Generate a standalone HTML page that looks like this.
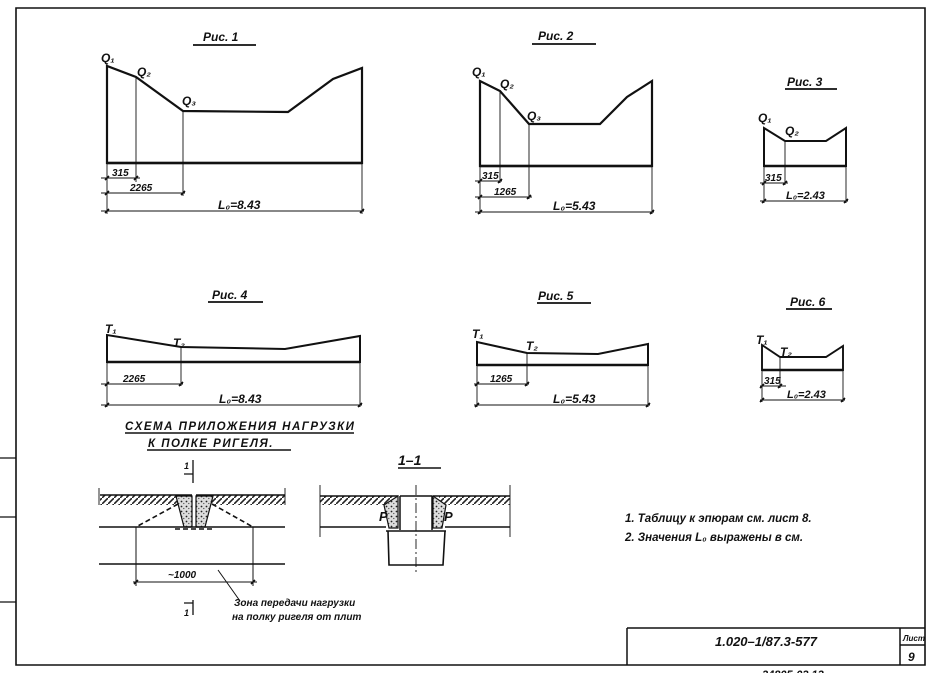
<!DOCTYPE html>
<html><head><meta charset="utf-8"><style>
html,body{margin:0;padding:0;background:#fff}
svg{display:block}
text{font-family:"Liberation Sans",sans-serif;font-style:italic;font-weight:bold;fill:#111}
</style></head><body>
<svg width="933" height="673" viewBox="0 0 933 673" xmlns="http://www.w3.org/2000/svg">
<defs>
<pattern id="h" width="6" height="6" patternUnits="userSpaceOnUse"><rect width="6" height="6" fill="#fff"/><path d="M0 6L6 0" stroke="#222" stroke-width="1.6"/></pattern>
<pattern id="c" width="5" height="5" patternUnits="userSpaceOnUse"><rect width="5" height="5" fill="#ddd"/><circle cx="1.5" cy="1.5" r="0.9" fill="#222"/><circle cx="3.8" cy="3.5" r="0.6" fill="#444"/></pattern>
</defs>
<g fill="none" stroke="#111">
<path d="M16 8H925V665H16Z" stroke-width="1.6"/>
<path d="M0 458H16M0 517H16M0 602H16" stroke-width="1.2"/>
<path d="M627 628H925M627 628V665M900 628V665M900 645H925" stroke-width="1.5"/>

<path d="M107 163V66L136 77L183 111L288 112L333 79L362 68V163Z" stroke-width="2.2"/>
<path d="M107 163H362" stroke-width="2.6"/>
<path d="M136 77V182M183 111V196M107 163V214M362 163V214" stroke-width="0.9"/>
<path d="M101 178H140M101 193H185M101 211H364" stroke-width="1"/>
<path d="M105 180L109 176M134 180L138 176M105 195L109 191M181 195L185 191M105 213L109 209M360 213L364 209" stroke-width="1.6"/>
<path d="M193 45H256" stroke-width="1.8"/>

<path d="M480 166V81L500 91L529 124L600 124L627 97L652 81V166Z" stroke-width="2.2"/>
<path d="M480 166H652" stroke-width="2.6"/>
<path d="M500 91V183M529 124V199M480 166V214M652 166V214" stroke-width="0.9"/>
<path d="M475 181H502M475 197H532M475 212H654" stroke-width="1"/>
<path d="M478 183L482 179M498 183L502 179M478 199L482 195M527 199L531 195M478 214L482 210M650 214L654 210" stroke-width="1.6"/>
<path d="M532 44H596" stroke-width="1.8"/>

<path d="M764 166V128L785 141L826 141L846 128V166Z" stroke-width="2"/>
<path d="M764 166H846" stroke-width="2.4"/>
<path d="M785 141V185M764 166V203M846 166V203" stroke-width="0.9"/>
<path d="M760 183H788M760 201H848" stroke-width="1"/>
<path d="M762 185L766 181M783 185L787 181M762 203L766 199M844 203L848 199" stroke-width="1.6"/>
<path d="M785 89H837" stroke-width="1.8"/>

<path d="M107 362V335L181 347L285 349L360 336V362Z" stroke-width="2"/>
<path d="M107 362H360" stroke-width="2.6"/>
<path d="M181 347V386M107 362V407M360 362V407" stroke-width="0.9"/>
<path d="M101 384H183M101 405H362" stroke-width="1"/>
<path d="M105 386L109 382M179 386L183 382M105 407L109 403M358 407L362 403" stroke-width="1.6"/>
<path d="M208 302H263" stroke-width="1.8"/>

<path d="M477 365V342L527 353L598 354L648 344V365Z" stroke-width="2"/>
<path d="M477 365H648" stroke-width="2.6"/>
<path d="M527 353V386M477 365V407M648 365V407" stroke-width="0.9"/>
<path d="M474 384H529M474 405H650" stroke-width="1"/>
<path d="M475 386L479 382M525 386L529 382M475 407L479 403M646 407L650 403" stroke-width="1.6"/>
<path d="M537 303H591" stroke-width="1.8"/>

<path d="M762 370V345L780 357L826 357L843 346V370Z" stroke-width="1.9"/>
<path d="M762 370H843" stroke-width="2.4"/>
<path d="M780 357V388M762 370V402M843 370V402" stroke-width="0.9"/>
<path d="M760 386H786M760 400H845" stroke-width="1"/>
<path d="M760 388L764 384M778 388L782 384M760 402L764 398M841 402L845 398" stroke-width="1.6"/>
<path d="M786 309H832" stroke-width="1.8"/>

<path d="M125 433H354M147 450H291" stroke-width="1.4"/>

<rect x="100" y="495" width="92" height="10" fill="url(#h)" stroke="none"/>
<rect x="196" y="495" width="89" height="10" fill="url(#h)" stroke="none"/>
<path d="M100 495H192M196 495H285" stroke-width="1.4"/>
<path d="M176 496L192 496L192 527L184 527Z" fill="url(#c)" stroke-width="1.2"/>
<path d="M196 496L213 496L205 527L196 527Z" fill="url(#c)" stroke-width="1.2"/>
<path d="M99 488V505M285 488V505" stroke-width="0.9"/>
<path d="M99 527H285M99 564H285" stroke-width="1.6"/>
<path d="M178 504L136 527M212 504L253 527M175 529H213" stroke-width="1.6" stroke-dasharray="5 3"/>
<path d="M136 527V586M253 527V586M133 582H257" stroke-width="1"/>
<path d="M134 584L138 580M251 584L255 580" stroke-width="1.6"/>
<path d="M193 460V483M193 600V615M184 474H193M184 603H193" stroke-width="1.3"/>
<path d="M218 570L240 601" stroke-width="1"/>

<rect x="320" y="496" width="74" height="9" fill="url(#h)" stroke="none"/>
<rect x="439" y="496" width="71" height="9" fill="url(#h)" stroke="none"/>
<path d="M320 496H398M433 496H510" stroke-width="1.4"/>
<path d="M384 505L398 496L398 528L389 528Z" fill="url(#c)" stroke-width="1.2"/>
<path d="M446 505L433 496L433 528L442 528Z" fill="url(#c)" stroke-width="1.2"/>
<path d="M320 485V537M510 485V537" stroke-width="0.9"/>
<path d="M320 527H386M445 527H510" stroke-width="1.5"/>
<path d="M400 496H432M400 496V530M432 496V530" stroke-width="1.5"/>
<path d="M386 531H446M388 531L389 565H443L445 531" stroke-width="1.6"/>
<path d="M416 485V572" stroke-width="0.9" stroke-dasharray="10 3 2 3"/>
<path d="M398 468H441" stroke-width="1.6"/>
</g>

<g font-size="12">
<text x="203" y="41">Рис. 1</text>
<text x="538" y="40">Рис. 2</text>
<text x="787" y="86">Рис. 3</text>
<text x="212" y="299">Рис. 4</text>
<text x="538" y="300">Рис. 5</text>
<text x="790" y="306">Рис. 6</text>
<text x="101" y="62">Q₁</text>
<text x="137" y="76">Q₂</text>
<text x="182" y="105">Q₃</text>
<text x="472" y="76">Q₁</text>
<text x="500" y="88">Q₂</text>
<text x="527" y="120">Q₃</text>
<text x="758" y="122">Q₁</text>
<text x="785" y="135">Q₂</text>
<text x="105" y="333">T₁</text>
<text x="173" y="347">T₂</text>
<text x="472" y="338">T₁</text>
<text x="526" y="350">T₂</text>
<text x="756" y="344">T₁</text>
<text x="780" y="356">T₂</text>
</g>
<g font-size="10">
<text x="112" y="176">315</text>
<text x="130" y="191">2265</text>
<text x="218" y="209" font-size="12">L₀=8.43</text>
<text x="482" y="179">315</text>
<text x="494" y="195">1265</text>
<text x="553" y="210" font-size="12">L₀=5.43</text>
<text x="765" y="181">315</text>
<text x="786" y="199" font-size="11">L₀=2.43</text>
<text x="123" y="382">2265</text>
<text x="219" y="403" font-size="12">L₀=8.43</text>
<text x="490" y="382">1265</text>
<text x="553" y="403" font-size="12">L₀=5.43</text>
<text x="764" y="384">315</text>
<text x="787" y="398" font-size="11">L₀=2.43</text>
</g>
<g font-size="11.5">
<text x="125" y="430" letter-spacing="1.5">СХЕМА  ПРИЛОЖЕНИЯ  НАГРУЗКИ</text>
<text x="148" y="447" letter-spacing="1.5">К  ПОЛКЕ  РИГЕЛЯ.</text>
<text x="398" y="465" font-size="14">1–1</text>
<text x="184" y="469" font-size="9">1</text>
<text x="184" y="616" font-size="9">1</text>
<text x="168" y="578" font-size="10">~1000</text>
<text x="234" y="606" font-size="10">Зона передачи  нагрузки</text>
<text x="232" y="620" font-size="10">на полку  ригеля  от плит</text>
<text x="379" y="521" font-size="13">P</text>
<text x="444" y="521" font-size="13">P</text>
<text x="625" y="522" font-size="11.5">1. Таблицу  к эпюрам  см. лист 8.</text>
<text x="625" y="541" font-size="11.5">2. Значения  L₀ выражены  в см.</text>
<text x="715" y="646" font-size="13">1.020–1/87.3-577</text>
<text x="903" y="641" font-size="8">Лист</text>
<text x="908" y="661" font-size="12">9</text>
<text x="762" y="678" font-size="11">24805-03      12</text>
</g>
</svg>
</body></html>
